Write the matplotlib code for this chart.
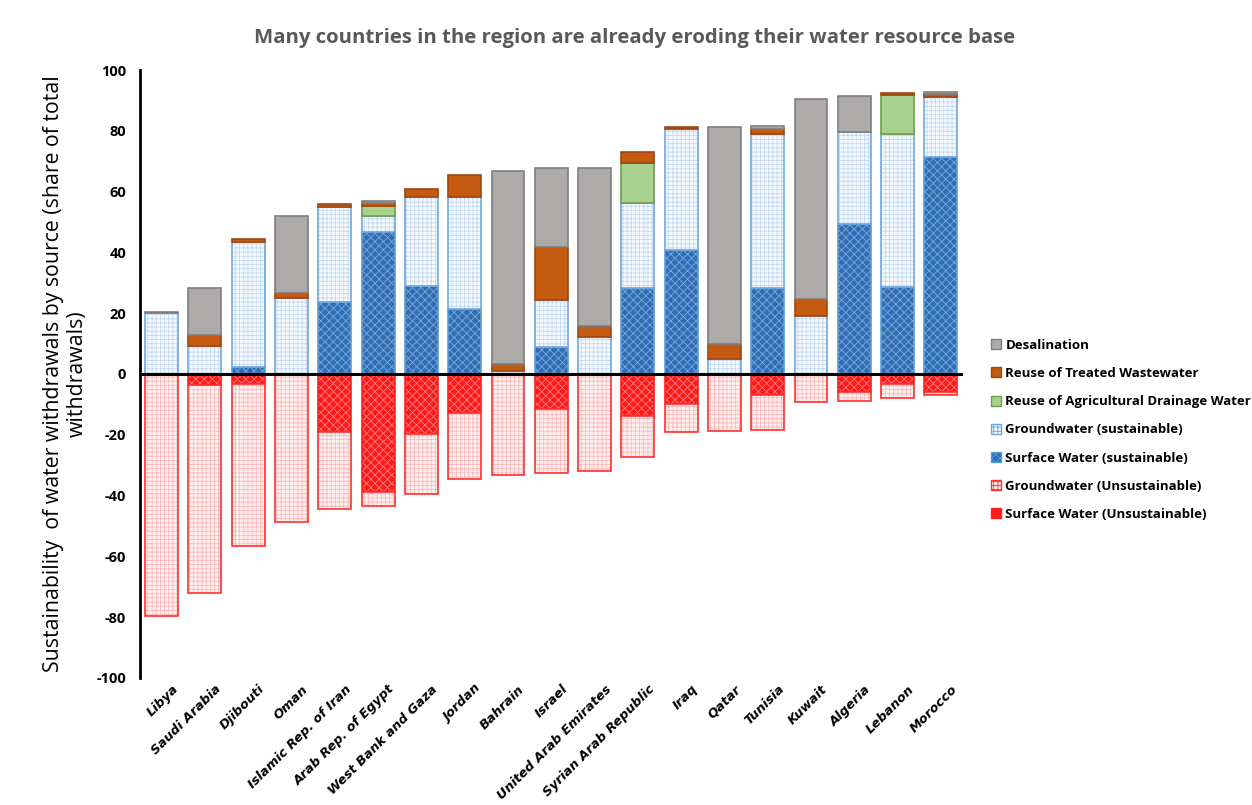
import matplotlib
matplotlib.use("Agg")
import matplotlib.pyplot as plt
import matplotlib.patches as mpatches
import matplotlib.transforms as mtransforms
import numpy as np

countries = ["Libya", "Saudi Arabia", "Djibouti", "Oman", "Islamic Rep. of Iran",
             "Arab Rep. of Egypt", "West Bank and Gaza", "Jordan", "Bahrain", "Israel",
             "United Arab Emirates", "Syrian Arab Republic", "Iraq", "Qatar", "Tunisia",
             "Kuwait", "Algeria", "Lebanon", "Morocco"]

# positive side (stack order bottom -> top)
sw_sust = [0, 0, 2.4, 0, 23.8, 46.6, 29.0, 21.3, 0, 9.0, 0, 28.4, 40.8, 0, 28.2, 0, 49.2, 28.7, 71.5]
gw_sust = [20.0, 9.3, 40.9, 24.9, 31.2, 5.4, 29.1, 37.0, 0.8, 15.3, 12.1, 27.7, 39.7, 4.8, 50.8, 19.1, 30.5, 50.3, 19.7]
adw = [0, 0, 0, 0, 0, 3.3, 0, 0, 0, 0, 0, 13.2, 0, 0, 0, 0, 0, 12.8, 0]
tww = [0, 3.5, 1.0, 1.6, 0.9, 0.8, 2.8, 7.2, 2.5, 17.6, 3.8, 3.8, 0.6, 5.1, 1.5, 5.5, 0, 0.5, 0.8]
desal = [0.5, 15.4, 0, 25.5, 0, 0.9, 0, 0, 63.5, 25.8, 52.0, 0, 0, 71.5, 1.1, 65.9, 11.7, 0, 0.9]

# negative side (stack order top -> bottom)
sw_unsust = [0, -3.6, -3.3, 0, -19.2, -38.7, -19.7, -12.7, 0, -11.6, 0, -13.8, -9.9, 0, -6.9, 0, -5.8, -3.3, -6.0]
gw_unsust = [-79.8, -68.5, -53.2, -48.6, -25.2, -4.6, -19.8, -21.9, -33.4, -20.9, -32.1, -13.4, -9.3, -18.8, -11.7, -9.4, -3.1, -4.5, -1.1]

yticks = [-100, -80, -60, -40, -20, 0, 20, 40, 60, 80, 100]

plt.rcParams['hatch.linewidth'] = 0.6

fig = plt.figure(figsize=(12.52, 8.05), dpi=100)
ax = fig.add_axes([0.1118, 0.158, 0.657, 0.755])

x = np.arange(len(countries))
w = 0.76

styles = {
    "sw_sust":  dict(face="#2F6DB5", hatch_c="#7FAAD9", hatch="xxxx", edge="#5B9BD5"),
    "gw_sust":  dict(face="#F5F9FD", hatch_c="#C3D8F0", hatch="++++", edge="#6FA8E0"),
    "adw":      dict(face="#A9D18E", hatch_c=None, hatch=None, edge="#6E9E4E"),
    "tww":      dict(face="#C55A11", hatch_c=None, hatch=None, edge="#9E4710"),
    "desal":    dict(face="#AEAAAA", hatch_c=None, hatch=None, edge="#7F7F7F"),
    "sw_unsust": dict(face="#FF1A1A", hatch_c="#FF8080", hatch="xxxx", edge="#FF2020"),
    "gw_unsust": dict(face="#FFF0F0", hatch_c="#FFB8B8", hatch="++++", edge="#FF3030"),
}

b = np.zeros(len(x))
for key, vals in [("sw_sust", sw_sust), ("gw_sust", gw_sust), ("adw", adw), ("tww", tww), ("desal", desal)]:
    v = np.array(vals, dtype=float)
    mask = v > 0
    s = styles[key]
    if s["hatch"]:
        ax.bar(x[mask], v[mask], w, bottom=b[mask], color=s["face"], edgecolor=s["hatch_c"],
               hatch=s["hatch"], linewidth=0)
        ax.bar(x[mask], v[mask], w, bottom=b[mask], fill=False, edgecolor=s["edge"], linewidth=1.2)
    else:
        ax.bar(x[mask], v[mask], w, bottom=b[mask], color=s["face"], edgecolor=s["edge"], linewidth=1.2)
    b = b + v

b = np.zeros(len(x))
for key, vals in [("sw_unsust", sw_unsust), ("gw_unsust", gw_unsust)]:
    v = np.array(vals, dtype=float)
    mask = v < 0
    s = styles[key]
    ax.bar(x[mask], v[mask], w, bottom=b[mask], color=s["face"], edgecolor=s["hatch_c"],
           hatch=s["hatch"], linewidth=0)
    ax.bar(x[mask], v[mask], w, bottom=b[mask], fill=False, edgecolor=s["edge"], linewidth=1.2)
    b = b + v

ax.axhline(0, color="black", linewidth=2.2, zorder=5)
ax.set_xlim(-0.5, len(x) - 0.5)
ax.set_ylim(-100, 100)
ax.set_yticks(yticks)
ax.set_yticklabels([str(t) for t in yticks], fontsize=10.5, fontweight="bold", family="Open Sans")
ax.tick_params(axis="y", length=0, pad=10)
ax.tick_params(axis="x", length=0)
ax.set_xticks(x)
ax.set_xticklabels(countries, rotation=45, ha="right", rotation_mode="anchor",
                   fontsize=9.3, fontweight="bold", fontstyle="italic", family="DejaVu Sans")
offset = mtransforms.ScaledTranslation(10 / 100, 0, fig.dpi_scale_trans)
for lab in ax.get_xticklabels():
    lab.set_transform(lab.get_transform() + offset)
for sp in ["top", "right", "bottom"]:
    ax.spines[sp].set_visible(False)
ax.spines["left"].set_linewidth(2)

ax.set_ylabel("Sustainability  of water withdrawals by source (share of total\nwithdrawals)",
              fontsize=15.3, family="Open Sans", labelpad=6)
fig.text(0.507, 0.953, "Many countries in the region are already eroding their water resource base",
         ha="center", va="center", fontsize=14.7, fontweight="bold", color="#595959", family="Open Sans")

legend_items = [
    ("Desalination", "desal"),
    ("Reuse of Treated Wastewater", "tww"),
    ("Reuse of Agricultural Drainage Water", "adw"),
    ("Groundwater (sustainable)", "gw_sust"),
    ("Surface Water (sustainable)", "sw_sust"),
    ("Groundwater (Unsustainable)", "gw_unsust"),
    ("Surface Water (Unsustainable)", "sw_unsust"),
]
handles = []
for lbl, key in legend_items:
    s = styles[key]
    if s["hatch"]:
        h = mpatches.Patch(facecolor=s["face"], edgecolor=s["edge"], hatch=s["hatch"], label=lbl)
    else:
        h = mpatches.Patch(facecolor=s["face"], edgecolor=s["edge"], label=lbl)
    handles.append(h)
fig.legend(handles=handles, loc="center left", bbox_to_anchor=(0.782, 0.466), frameon=False,
           prop=dict(family="Open Sans", weight="bold", size=9.5), handlelength=0.8, handleheight=0.8,
           handletextpad=0.3, labelspacing=1.15)

fig.savefig("out.png", dpi=100)
